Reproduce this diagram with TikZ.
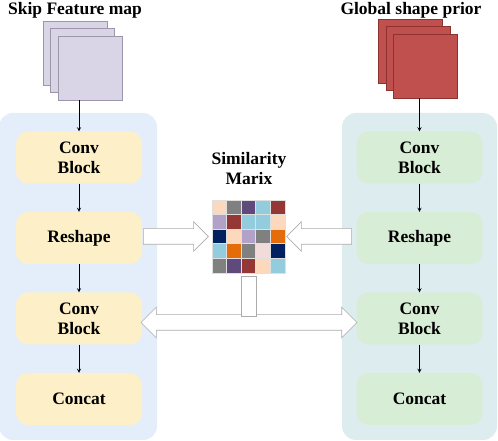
\documentclass[tikz,border=0pt]{standalone}
\usepackage{fontspec}
\setmainfont{Liberation Serif}
\usepackage{xcolor}
\usetikzlibrary{positioning, arrows, shapes.arrows}
\definecolor{lpanel}{HTML}{E3EEFA}
\definecolor{rpanel}{HTML}{DDECEE}
\definecolor{lboxcol}{HTML}{FDF0C9}
\definecolor{rboxcol}{HTML}{D8EDD5}
\definecolor{lsheetcol}{HTML}{DAD5E6}
\definecolor{lsheetdraw}{HTML}{9C96AA}
\definecolor{rsheetcol}{HTML}{C0504D}
\definecolor{rsheetdraw}{HTML}{8C3330}
\definecolor{pch}{HTML}{FCD9BC}
\definecolor{gry}{HTML}{808080}
\definecolor{dpu}{HTML}{5F4A7B}
\definecolor{lbl}{HTML}{93CDDD}
\definecolor{drd}{HTML}{953735}
\definecolor{lav}{HTML}{B3A2C7}
\definecolor{nvy}{HTML}{002060}
\definecolor{org}{HTML}{E46C0A}
\definecolor{lpk}{HTML}{F2DCDB}
\tikzset{
    >=stealth, % arrow heads
    box/.style={rectangle, rounded corners=12pt, minimum width=126pt, minimum height=52pt, align=center, font=\bfseries\fontsize{17.5}{20}\selectfont}, % the blocks in both columns
    lbox/.style={box, fill=lboxcol},
    rbox/.style={box, fill=rboxcol},
    sheet/.style={rectangle, minimum size=64pt, inner sep=0pt, line width=0.6pt}, % one feature map
    lsheet/.style={sheet, fill=lsheetcol, draw=lsheetdraw},
    rsheet/.style={sheet, fill=rsheetcol, draw=rsheetdraw},
    title/.style={align=center, font=\bfseries\fontsize{17.5}{20}\selectfont},
    cell/.style={rectangle, minimum size=14.6pt, inner sep=0pt, draw=gray!25, line width=0.4pt},
    barrow/.style={single arrow, draw=gray!65, fill=white, line width=0.6pt, minimum height=65pt, single arrow head extend=7pt, inner xsep=0pt, inner ysep=7.5pt}, % shaft 15pt thick
    dbarrow/.style={double arrow, draw=gray!65, fill=white, line width=0.6pt, minimum height=216pt, double arrow head extend=7.5pt, inner xsep=0pt, inner ysep=7.5pt},
    stem/.style={rectangle, draw=gray!65, fill=white, line width=0.6pt, minimum width=15pt, minimum height=40pt, inner sep=0pt},
}
\tikzstyle{arrow} = [line width=0.8pt, ->, >=stealth]

\begin{document}
\begin{tikzpicture}[x=1pt, y=1pt, node distance=80.5pt, on grid]
    \useasboundingbox (0,0) rectangle (498,441);

    % the two column panels
    \fill[lpanel, rounded corners=14pt] (-1,1) rectangle (157,328);
    \fill[rpanel, rounded corners=14pt] (342,1) rectangle (497,328);

    % titles and input maps
    \node[title] (LT) at (75,431) {Skip Feature map};
    \node[title] (RT) at (411,431) {Global shape prior};
    \foreach \i in {1,2,3} {
        \node[lsheet] (LS\i) at (67.5+7.5*\i, 395.5-7.5*\i) {};
        \node[rsheet] (RS\i) at (403+7.5*\i, 397.5-7.5*\i) {};
    }

    % left column
    \node[lbox] (L1) at (79,283.5) {Conv\\Block};
    \node[lbox] (L2) [below=of L1] {Reshape};
    \node[lbox] (L3) [below=of L2] {Conv\\Block};
    \node[lbox] (L4) [below=of L3] {Concat};

    % right column
    \node[rbox] (R1) at (419.5,283.5) {Conv\\Block};
    \node[rbox] (R2) [below=of R1] {Reshape};
    \node[rbox] (R3) [below=of R2] {Conv\\Block};
    \node[rbox] (R4) [below=of R3] {Concat};

    \draw[arrow] (L1 |- LS3.south) -- (L1.north);
    \draw[arrow] (L1) -- (L2);
    \draw[arrow] (L2) -- (L3);
    \draw[arrow] (L3) -- (L4);
    \draw[arrow] (R1 |- RS3.south) -- (R1.north);
    \draw[arrow] (R1) -- (R2);
    \draw[arrow] (R2) -- (R3);
    \draw[arrow] (R3) -- (R4);

    % similarity matrix
    \node[title] (MT) at (249,272) {Similarity\\Marix};
    \node[minimum size=73pt, inner sep=0pt] (M) at (248.5,204.5) {};
    \foreach \row [count=\r] in {{pch,gry,dpu,lbl,drd},{lav,drd,lbl,lbl,pch},{nvy,pch,lav,gry,org},{lbl,org,gry,lpk,nvy},{gry,dpu,drd,pch,lbl}}
        \foreach \c [count=\k] in \row
            \node[cell, fill=\c] (C\r\k) at ([shift={(\k*14.6-7.3, -\r*14.6+7.3)}]M.north west) {};

    % block arrows
    \node[barrow, anchor=tip] (AL) at ([xshift=-3pt]M.west) {};
    \node[barrow, shape border rotate=180, anchor=tip] (AR) at ([xshift=1pt]M.east) {};
    \node[dbarrow] (DA) at (249,118.5) {};
    \node[stem, anchor=north] (ST) at ([yshift=-3pt]M.south) {};
\end{tikzpicture}
\end{document}
